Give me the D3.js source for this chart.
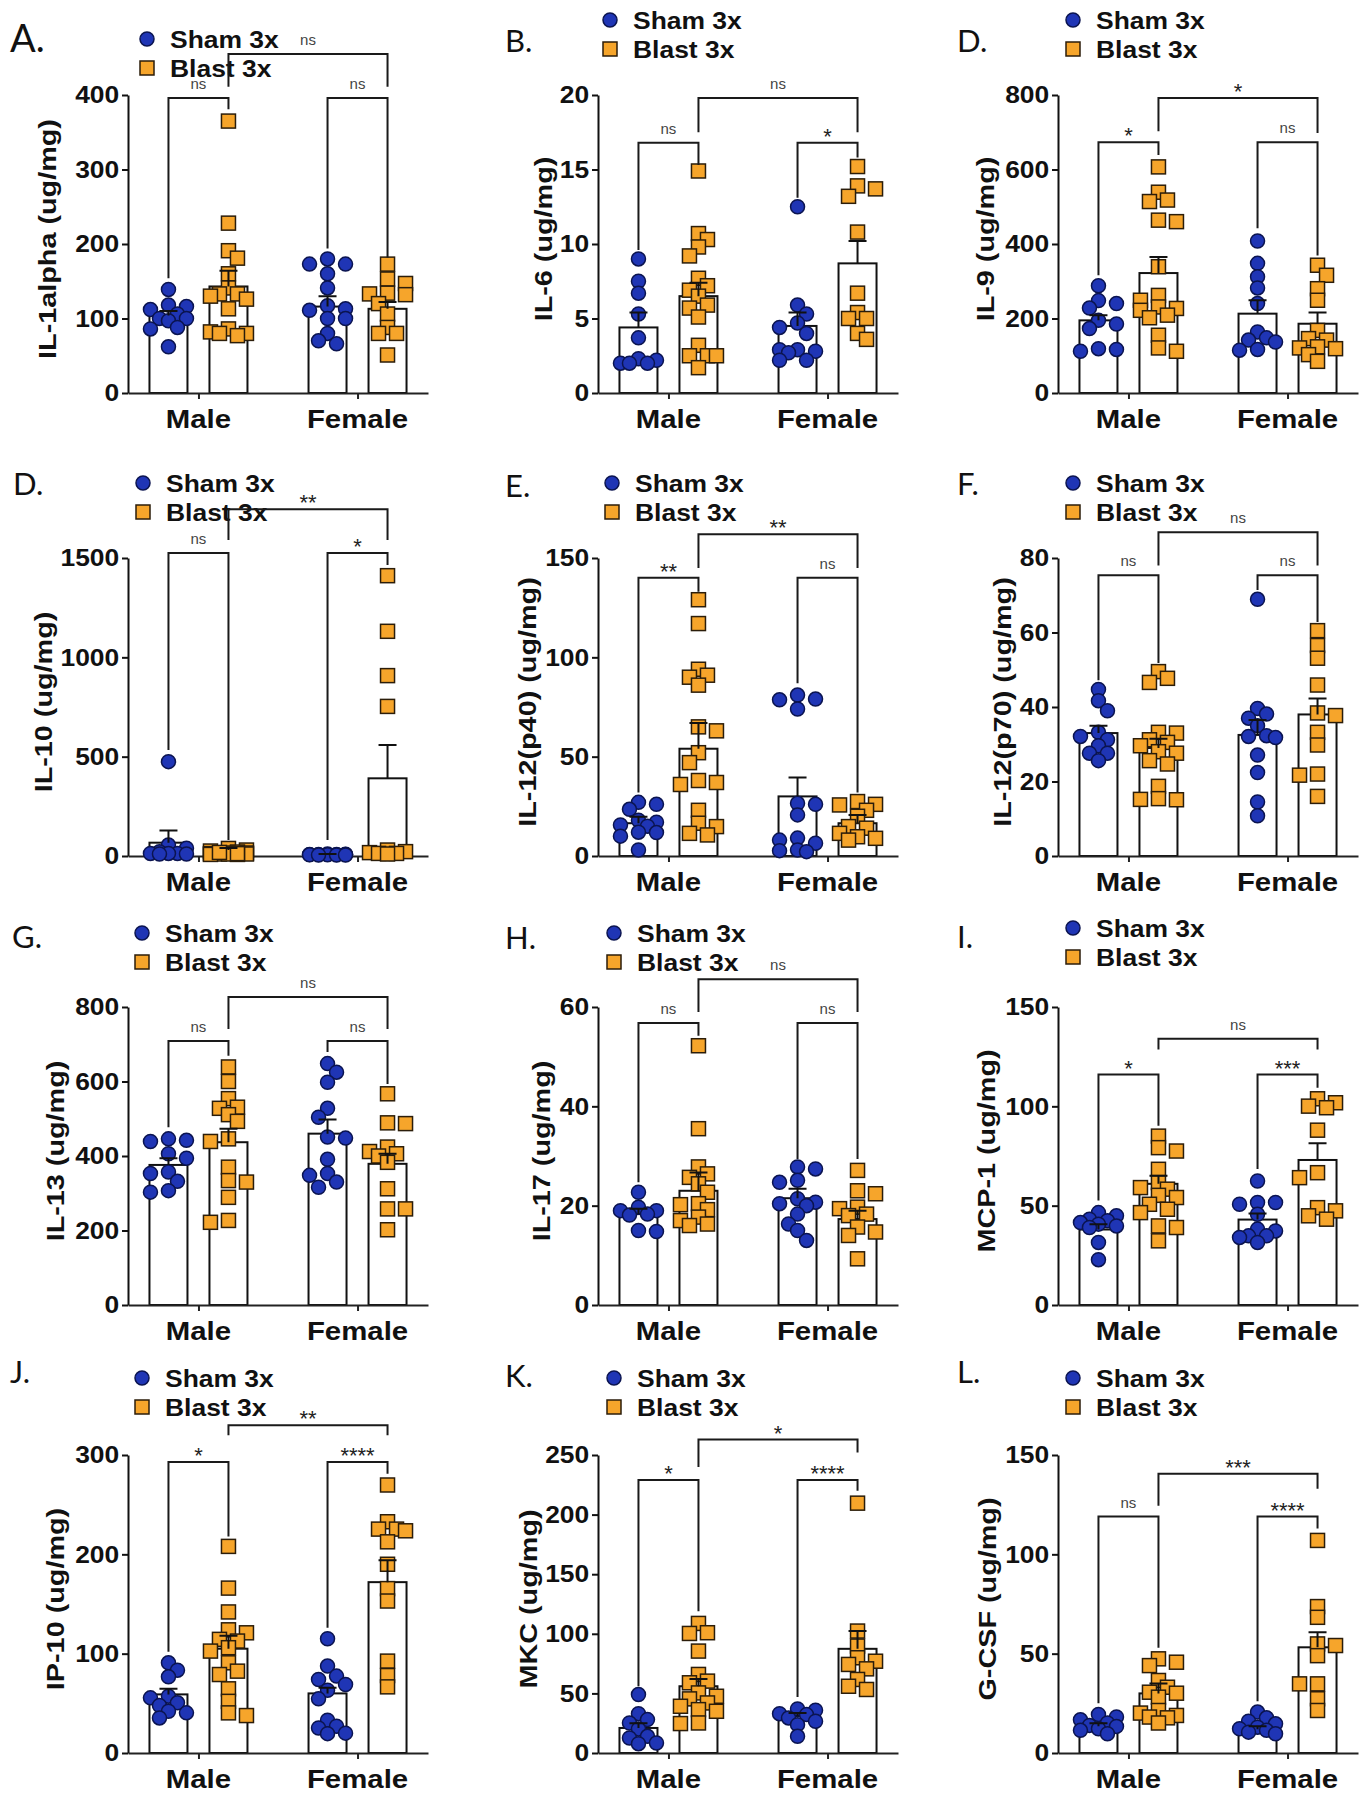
<!DOCTYPE html>
<html><head><meta charset="utf-8">
<script src="https://cdn.jsdelivr.net/npm/d3@7"></script>
<style>body{margin:0;background:#fff}</style>
</head><body><svg id="chart" width="1365" height="1800" xmlns="http://www.w3.org/2000/svg"></svg>
<script>
// ---------- DATA ----------
const categories = ["Male", "Female"];
const seriesNames = ["Sham 3x", "Blast 3x"];
const panelLetters = ["A.", "B.", "D.", "D.", "E.", "F.", "G.", "H.", "I.", "J.", "K.", "L."];
const yTitles = ["IL-1alpha (ug/mg)", "IL-6 (ug/mg)", "IL-9 (ug/mg)", "IL-10 (ug/mg)", "IL-12(p40) (ug/mg)", "IL-12(p70) (ug/mg)",
  "IL-13 (ug/mg)", "IL-17 (ug/mg)", "MCP-1 (ug/mg)", "IP-10 (ug/mg)", "MKC (ug/mg)", "G-CSF (ug/mg)"];
const yMaxima = [400, 20, 800, 1500, 150, 80, 800, 60, 150, 300, 250, 150];
const yTickSteps = [100, 5, 200, 500, 50, 20, 200, 20, 50, 100, 50, 50];

// points per group: [Sham Male, Blast Male, Sham Female, Blast Female]
const il1aPoints = [
  [139,118,116,112,106,100,100,97,88,86,62],
  [365,228,191,181,160,141,133,133,130,126,113,86,82,80,80,77],
  [180,173,173,160,141,117,113,111,100,100,80,70,66],
  [173,153,147,134,133,132,120,106,88,80,80,51]];
const il6Points = [
  [9.0,7.5,6.7,5.3,3.7,2.3,2.2,2.0,2.0,2.0],
  [14.9,10.7,10.3,9.8,9.2,7.7,7.2,6.9,6.5,5.9,5.7,5.1,3.2,2.5,2.5,2.5,1.7],
  [12.5,5.9,5.3,4.7,4.4,4.0,2.9,2.9,2.8,2.7,2.2,2.2],
  [15.2,13.9,13.7,13.2,10.8,6.7,5.4,5.0,5.0,4.0,3.6]];
const il9Points = [
  [288,248,240,228,195,185,173,119,117,112],
  [607,539,518,514,464,460,339,262,249,231,227,222,209,202,155,121,112],
  [408,348,312,282,240,164,148,142,137,117,115],
  [343,316,280,249,168,146,142,124,121,119,103,85]];
const il10Points = [
  [475,55,39,22,13,13,13,10,10],
  [38,30,25,20,15,15,12,10,10,8,8,10,12,18],
  [10,9,8,8,7,7,6,6,5,5,5],
  [1411,1131,908,753,30,22,17,13,13,10]];
const il12p40Points = [
  [27,26,23.5,18,17,15.6,15,12,11.8,10,3],
  [129,117,94,91,90,86,65,63,52,47,38,37,36,23,16.5,14.8,11.4,10.6],
  [81,79,78.6,74,26.5,26,20.7,9,8,6.4,3,2.7,2.2],
  [27.4,26,25.7,23,20,14.8,14,11.4,9.7,8.9,8]];
const il12p70Points = [
  [44.7,41.7,39,33.2,32.1,31.2,29.6,27.6,27.6,25.6],
  [49.5,47.7,46.6,33.2,33,31.2,30.5,29.6,28,27.6,25.6,24.7,18.7,15.4,15.2,15.1],
  [68.9,39.6,38.1,37,35,32.3,32.1,31.8,27.1,22.4,14.5,10.8],
  [60.5,56.5,53.1,45.9,38.4,37.7,33.2,29.8,22,21.7,16]];
const il13Points = [
  [446,442,439,406,394,357,353,332,307,303],
  [639,600,554,531,528,511,493,446,439,370,334,330,289,227,222],
  [648,625,598,528,504,451,448,391,353,348,330,316],
  [567,489,487,424,412,406,400,383,312,258,258,202]];
const il17Points = [
  [22.7,19.7,19,19,18.3,18.1,15,14.8],
  [52.2,35.5,27.8,26.4,25.7,24.4,22.7,20.4,20.2,19.2,17.7,17,16.3,16],
  [27.8,27.4,25.1,24.7,21.4,20.7,20.4,20,18.3,16.3,15,13],
  [27.1,23,22.4,19.7,19.4,18.3,18,15.7,14.7,14,9.3]];
const mcp1Points = [
  [46.5,44.9,43.2,42.4,41.5,40.7,39.8,39,31.5,22.8],
  [85,79.2,77.5,68.3,61.6,59.1,58.3,55.2,54.1,50.7,48.2,46.5,39.8,39,32.3],
  [62.4,51.6,51.6,50.7,45.7,38.2,37.3,34.8,34.8,34,31.5],
  [103.8,101.8,100.1,99.3,88,66.6,64.1,49,47.4,44.9,43.2]];
const ip10Points = [
  [90.8,83.4,76.7,57.2,55.5,50.5,47.8,42,40.4,35.3],
  [208,166,142,124,121,114.4,112.7,106,102.6,90.8,82.4,79,64.6,52,40.4,37.7],
  [115,87.5,77.4,74,69,63.2,54.5,33,26.9,25.2,20,19.5],
  [269.8,232.8,225.4,225.4,223.7,212.6,190,165.5,153,92.5,78,66.6]];
const mkcPoints = [
  [49,33,28,25.2,20.2,14,12.6,8.4,7.8],
  [108.7,100.9,100.3,85.5,65.9,60.3,58.9,50.4,47.6,45.4,42,39.2,36.4,35,25.2,24.7],
  [37,35.9,33,32.2,29.4,26.6,23.8,14],
  [209.6,102.3,89.7,79.9,77,74.3,70.6,61.7,56,53.3]];
const gcsfPoints = [
  [19.4,18.1,16.7,15.1,13.9,13.4,12.2,11.4,9.7],
  [47.4,45.7,44,36.5,33.1,30.6,30.1,28.1,21.4,20.1,18.9,18.1,17.7,15.1],
  [20.6,17.7,16,14.7,13,12.2,11.4,10.5,9.7],
  [107,73.7,68.3,54.9,54.1,49,34.8,34.8,27.3,21.4]];

// bar means and SEM per group
const groupMeans = [
  [104,143,116,113], [4.4,6.5,4.5,8.7], [195,322,213,186], [67,30,8,391],
  [16.5,54,30,16.5], [33,29,32.5,38], [376,437,460,379], [18.3,23,21.5,17.3],
  [38,61,43,73], [59,105,60,172], [21,56,31,87.4], [13.5,30,12,53.2]];
const groupSems = [
  [6,21,14,9], [1.0,0.9,0.9,1.5], [14,43,36,30], [61,10,2,168],
  [3.3,13,9.5,4.2], [2,2.5,4,4.3], [18,36,38,27], [1.1,3.7,1.9,1.7],
  [2.7,4,3,8.4], [5.6,13,5.6,22], [4,6,2.6,15], [1.5,5,1.5,7.6]];

// significance brackets: [label, groupA, groupB, bracket level, leg A end, leg B end] (data units)
const sigBrackets = [
  [["ns",0,1,396,154,381],["ns",2,3,396,194,182],["ns",1,3,455,411,411]],
  [["ns",0,1,16.8,9.6,15.3],["*",2,3,16.8,13.1,15.8],["ns",1,3,19.8,17.5,17.5]],
  [["*",0,1,673,316,639],["ns",2,3,673,442,369],["*",1,3,792,703,698]],
  [["ns",0,1,1525,533,80],["*",2,3,1525,80,1465],["**",1,3,1746,1590,1590]],
  [["**",0,1,140,32,133],["ns",2,3,140,87,32],["**",1,3,162,145,145]],
  [["ns",0,1,75.4,47.2,51.8],["ns",2,3,75.4,71.4,62.8],["ns",1,3,86.9,78,78]],
  [["ns",0,1,709,477,669],["ns",2,3,709,679,593],["ns",1,3,827,741,741]],
  [["ns",0,1,56.8,24.7,54.2],["ns",2,3,56.8,29.4,29.4],["ns",1,3,65.6,59,59]],
  [["*",0,1,116,52.6,90.2],["***",2,3,116,68.4,109.4],["ns",1,3,134,128.6,128.6]],
  [["*",0,1,293,102,218],["****",2,3,293,126,281],["**",1,3,330,320,320]],
  [["*",0,1,229,56,119],["****",2,3,229,47,220],["*",1,3,263,240,252]],
  [["ns",0,1,119,25,53],["****",2,3,119,26,113],["***",1,3,140.5,124.5,133]]];

const allPoints = [il1aPoints, il6Points, il9Points, il10Points, il12p40Points, il12p70Points,
  il13Points, il17Points, mcp1Points, ip10Points, mkcPoints, gcsfPoints];

// ---------- LAYOUT ----------
const FONT = "'Liberation Sans', Arial, Helvetica, sans-serif";
const colX = [128, 598, 1058];
const rowTop = [95, 558, 1007, 1455];
const rowBottom = [393, 856, 1305, 1753];
const plotW = 300;
const yTitleOffset = [-81,-55,-73,-85,-71,-56,-73,-57,-72,-73,-70,-71];
const legendPos = [[147,39],[610,20],[1073,20],[143,483],[612,483],[1073,483],[142,933],[614,933],[1073,928],[142,1378],[614,1378],[1073,1378]];
const letterPos = [[10,52],[505,52],[957,52],[13,495],[505,497],[957,495],[12,948],[505,949],[957,948],[10,1383],[505,1387],[957,1383]];
const letterSize = [38,31,31,31,31,31,31,31,31,31,31,31];
const BLUE = "#1f35b5", BLUE_S = "#0b1450", ORANGE = "#f6a52b", ORANGE_S = "#2b1d0a";

const svg = d3.select("#chart");
svg.append("rect").attr("width",1365).attr("height",1800).attr("fill","#fff");

function swarm(pixYs, collide, step, maxOff) {
  const idx = pixYs.map((v,i)=>i).sort((a,b)=>pixYs[a]-pixYs[b]);
  const placed = [], out = new Array(pixYs.length);
  let flip = 1;
  for (const i of idx) {
    const y = pixYs[i];
    let best = 0, bestScore = Infinity;
    outer:
    for (let k=0; k<=6; k++) {
      const cands = k===0 ? [0] : [flip*k*step, -flip*k*step];
      for (const s of cands) {
        if (Math.abs(s) > maxOff) continue;
        let ov = 0;
        for (const p of placed) { const d = Math.hypot(p.x-s, p.y-y); if (d < collide) ov += collide - d; }
        if (ov === 0) { best = s; bestScore = 0; break outer; }
        if (ov < bestScore) { bestScore = ov; best = s; }
      }
    }
    if (best !== 0) flip = -Math.sign(best);
    placed.push({x:best, y}); out[i] = best;
  }
  return out;
}

for (let p = 0; p < 12; p++) {
  const col = p % 3, row = Math.floor(p / 3);
  const ox = colX[col];
  const y0 = rowBottom[row], yT = rowTop[row];
  const y = d3.scaleLinear().domain([0, yMaxima[p]]).range([y0, yT]);
  const x = d3.scalePoint().domain(categories).range([0, plotW]).padding(0.443);
  const sub = d3.scalePoint().domain(seriesNames).range([-30, 30]);
  const gx = gi => x(categories[Math.floor(gi/2)]) + sub(seriesNames[gi%2]);

  // panel letter
  svg.append("text").attr("x", letterPos[p][0]).attr("y", letterPos[p][1])
    .attr("font-family", "Lato, 'Open Sans', sans-serif").attr("font-size", letterSize[p])
    .attr("fill", "#111").text(panelLetters[p]);

  // legend
  const [lx, ly] = legendPos[p];
  const lg = svg.append("g");
  lg.append("circle").attr("cx", lx).attr("cy", ly).attr("r", 7).attr("fill", BLUE).attr("stroke", BLUE_S).attr("stroke-width", 1.5);
  lg.append("rect").attr("x", lx-7).attr("y", ly+29-7).attr("width", 14).attr("height", 14).attr("fill", ORANGE).attr("stroke", ORANGE_S).attr("stroke-width", 1.5);
  seriesNames.forEach((s, i) => {
    lg.append("text").attr("transform", `translate(${lx+23},${ly+9+i*29}) scale(1.15,1)`)
      .attr("font-family", FONT).attr("font-weight", "bold").attr("font-size", 23).attr("fill", "#111").text(s);
  });

  const g = svg.append("g").attr("transform", `translate(${ox},0)`);

  // y axis
  const ya = g.append("g").call(d3.axisLeft(y).tickValues(d3.range(0, yMaxima[p] + 1e-9, yTickSteps[p]))
    .tickSize(6).tickSizeOuter(0).tickPadding(3).tickFormat(d3.format("d")));
  ya.select(".domain").attr("stroke", "#111").attr("stroke-width", 2);
  ya.selectAll(".tick line").attr("stroke", "#111").attr("stroke-width", 2);
  ya.selectAll(".tick text").attr("font-family", FONT).attr("font-weight", "bold").attr("font-size", 24)
    .attr("fill", "#111").attr("transform", "scale(1.1,1)").attr("x", -8);

  // y title
  g.append("text").attr("transform", `translate(${yTitleOffset[p]},${(y0+yT)/2 - 5}) rotate(-90) scale(1.2,1)`)
    .attr("text-anchor", "middle").attr("dy", "0.36em").attr("font-family", FONT).attr("font-weight", "bold")
    .attr("font-size", 24).attr("fill", "#111").text(yTitles[p]);

  // bars
  const means = groupMeans[p], sems = groupSems[p];
  g.selectAll("rect.bar").data(means).join("rect").attr("class", "bar")
    .attr("x", (d,i) => gx(i) - 19).attr("width", 38)
    .attr("y", d => y(d)).attr("height", d => y0 - y(d))
    .attr("fill", "#fff").attr("stroke", "#111").attr("stroke-width", 2);

  // x axis
  const xa = g.append("g").attr("transform", `translate(0,${y0})`)
    .call(d3.axisBottom(x).tickSize(6).tickSizeOuter(0).tickFormat(""));
  xa.select(".domain").attr("stroke", "#222").attr("stroke-width", 2.2);
  xa.selectAll(".tick line").attr("stroke", "#222").attr("stroke-width", 2);
  categories.forEach(c => {
    g.append("text").attr("transform", `translate(${x(c)},${y0+35}) scale(1.13,1)`)
      .attr("text-anchor", "middle").attr("font-family", FONT).attr("font-weight", "bold")
      .attr("font-size", 26).attr("fill", "#111").text(c);
  });

  // points
  allPoints[p].forEach((vals, gi) => {
    const pys = vals.map(v => y(v));
    const offs = swarm(pys, 10.5, 9, 19);
    const cx = gx(gi);
    if (gi % 2 === 0) {
      g.selectAll(null).data(vals).join("circle")
        .attr("cx", (d,i) => cx + offs[i]).attr("cy", d => y(d)).attr("r", 7)
        .attr("fill", BLUE).attr("stroke", BLUE_S).attr("stroke-width", 1.5);
    } else {
      g.selectAll(null).data(vals).join("rect")
        .attr("x", (d,i) => cx + offs[i] - 7).attr("y", d => y(d) - 7).attr("width", 14).attr("height", 14)
        .attr("fill", ORANGE).attr("stroke", ORANGE_S).attr("stroke-width", 1.5);
    }
  });

  // error bars
  means.forEach((m, i) => {
    const cx = gx(i), top = y(m + sems[i]);
    g.append("path").attr("d", `M${cx},${y(m)}V${top}M${cx-9},${top}H${cx+9}`)
      .attr("stroke", "#111").attr("stroke-width", 2).attr("fill", "none");
  });

  // significance brackets
  sigBrackets[p].forEach(([lab, a, b, lvl, la, lb]) => {
    const x1 = gx(a), x2 = gx(b), yl = y(lvl);
    g.append("path").attr("d", `M${x1},${y(la)}V${yl}H${x2}V${y(lb)}`)
      .attr("stroke", "#1a1a1a").attr("stroke-width", 2).attr("fill", "none");
    const isNs = lab === "ns";
    g.append("text").attr("x", (x1+x2)/2).attr("y", isNs ? yl - 9 : yl + 1)
      .attr("text-anchor", "middle").attr("font-family", FONT)
      .attr("font-size", isNs ? 15 : 22).attr("fill", isNs ? "#444" : "#222").text(lab);
  });
}
</script></body></html>
